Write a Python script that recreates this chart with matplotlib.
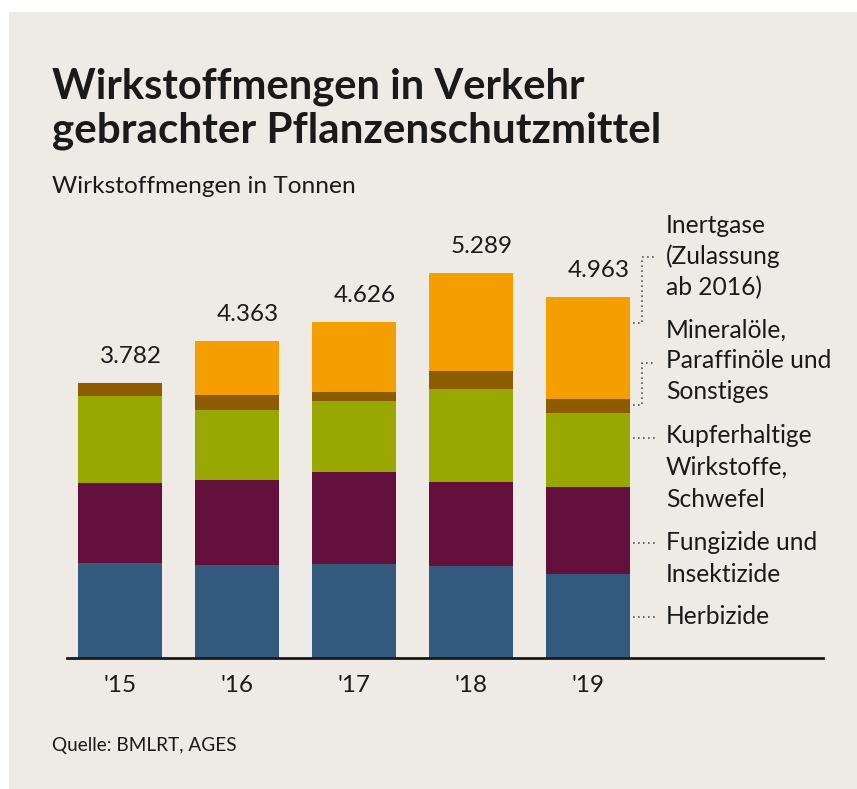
import numpy as np
import matplotlib
matplotlib.use('Agg')
import matplotlib.pyplot as plt
from matplotlib.patches import Rectangle
from matplotlib.lines import Line2D

plt.rcParams['font.family'] = ['Lato', 'DejaVu Sans']

# data (tonnes)
years = ["'15", "'16", "'17", "'18", "'19"]
totals = [3782, 4363, 4626, 5289, 4963]
herbizide = [1307, 1279, 1293, 1265, 1155]
fungizide = [1100, 1169, 1265, 1155, 1197]
kupfer = [1197, 963, 977, 1279, 1018]
mineraloele = [178, 206, 124, 248, 193]
inertgase = [0, 746, 967, 1342, 1400]

series = [herbizide, fungizide, kupfer, mineraloele, inertgase]
colors = ['#335a7c', '#63113c', '#98a800', '#8e5c00', '#f59e00']
labels = [['Herbizide'],
          ['Fungizide und', 'Insektizide'],
          ['Kupferhaltige', 'Wirkstoffe,', 'Schwefel'],
          ['Mineralöle,', 'Paraffinöle und', 'Sonstiges'],
          ['Inertgase', '(Zulassung', 'ab 2016)']]

W, H = 857, 789
BG = '#eeebe6'
INK = '#1a1a1a'

fig = plt.figure(figsize=(W / 100, H / 100), dpi=100)
fig.patch.set_facecolor('white')
fig.patches.append(Rectangle((9 / W, 0), 1, 1 - 12 / H, transform=fig.transFigure,
                             facecolor=BG, edgecolor='none', zorder=-10))


def fx(x):
    return x / W


def fy(y):
    return 1 - y / H


# axes placed in pixels: baseline at y=658, x from 67 to 823
ymax = 6000
k = 0.0727
ax = fig.add_axes([fx(67), fy(658), (823 - 67) / W, ymax * k / H])
ax.set_facecolor('none')

x = np.arange(len(years))
width = 84 / 117
bottom = np.zeros(len(years))
for vals, c in zip(series, colors):
    ax.bar(x, vals, width, bottom=bottom, color=c, edgecolor='none')
    bottom += np.array(vals)

for xi, t in zip(x, totals):
    ax.text(xi + width / 2, t + 275, f'{t:,}'.replace(',', '.'),
            ha='right', va='baseline', fontsize=17.5, color=INK)

ax.set_xlim(-(120 - 67) / 117, 4 + (823 - 588) / 117)
ax.set_ylim(0, ymax)
ax.set_yticks([])
ax.set_xticks(x)
ax.set_xticklabels(years, fontsize=17.5, color=INK)
ax.tick_params(axis='x', length=0, pad=12)
for s in ['top', 'right', 'left']:
    ax.spines[s].set_visible(False)
ax.spines['bottom'].set_linewidth(2)
ax.spines['bottom'].set_color(INK)

# titles
fig.text(fx(52), fy(99), 'Wirkstoffmengen in Verkehr', fontsize=30,
         fontweight='bold', color=INK, va='baseline')
fig.text(fx(52), fy(143), 'gebrachter Pflanzenschutzmittel', fontsize=30.3,
         fontweight='bold', color=INK, va='baseline')
fig.text(fx(52), fy(193), 'Wirkstoffmengen in Tonnen', fontsize=17.6,
         color=INK, va='baseline')
fig.text(fx(52), fy(751), 'Quelle: BMLRT, AGES', fontsize=13.7,
         color=INK, va='baseline')

# legend labels on the right, one line at a time
label_y = [[624], [550, 582], [443, 475, 507], [338, 368, 399], [233, 264, 295]]
for lines, ys in zip(labels, label_y):
    for line, ly in zip(lines, ys):
        fig.text(fx(666), fy(ly), line, fontsize=17.7, color=INK, va='baseline')

dot = dict(color='#555555', linewidth=1.2, linestyle=(0, (1, 2)),
           transform=fig.transFigure)
leaders = [
    [(633, 617), (655, 617)],
    [(633, 543), (655, 543)],
    [(633, 438), (655, 438)],
    [(633, 405), (642, 405), (642, 363), (655, 363)],
    [(633, 323), (642, 323), (642, 257), (655, 257)],
]
for pts in leaders:
    xs = [fx(p[0]) for p in pts]
    ys = [fy(p[1]) for p in pts]
    fig.add_artist(Line2D(xs, ys, **dot))

fig.savefig('out.png', dpi=100, facecolor=fig.get_facecolor())
